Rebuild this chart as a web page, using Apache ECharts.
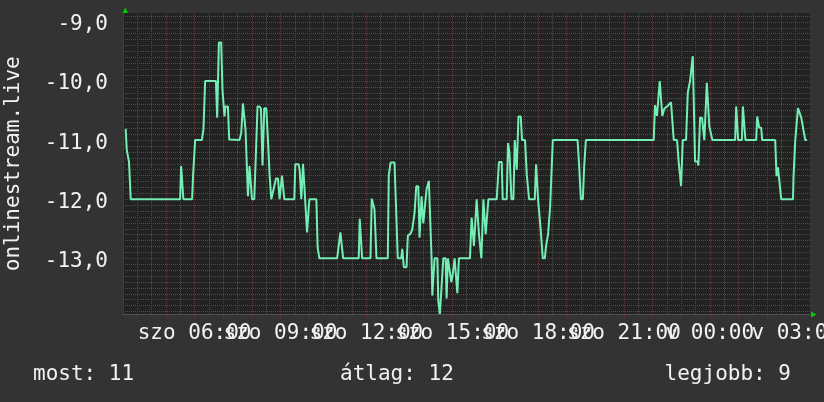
<!DOCTYPE html>
<html><head><meta charset="utf-8">
<script src="https://cdn.jsdelivr.net/npm/echarts@6/dist/echarts.min.js"></script>
<style>html,body{margin:0;padding:0;background:#333333;}#c{width:824px;height:402px;}</style>
</head><body><div id="c"></div>
<script>
// time in hours since Saturday 00:00
const hours = [3.594,3.63,3.71,3.77,5.495,5.53,5.59,5.61,5.915,5.95,
6.02,6.255,6.31,6.37,6.745,6.79,6.85,6.93,6.975,7.045,
7.08,7.165,7.21,7.57,7.63,7.69,7.735,7.78,7.865,7.92,
8.005,8.085,8.13,8.2,8.27,8.32,8.375,8.435,8.505,8.565,
8.62,8.68,8.76,8.845,8.915,8.97,9.055,9.135,9.485,9.52,
9.635,9.67,9.73,9.79,9.845,9.93,9.975,10.01,10.255,10.3,
10.36,10.98,11.035,11.095,11.155,11.19,11.735,11.77,11.83,11.855,
12.145,12.19,12.24,12.285,12.355,12.75,12.785,12.845,12.985,13.045,
13.1,13.22,13.255,13.31,13.405,13.45,13.545,13.605,13.685,13.745,
13.815,13.86,13.93,13.99,14.045,14.105,14.185,14.235,14.28,14.305,
14.34,14.385,14.48,14.515,14.57,14.63,14.69,14.77,14.805,14.85,
14.91,14.97,15.025,15.085,15.13,15.18,15.21,15.235,15.62,15.68,
15.725,15.76,15.82,15.855,15.9,15.935,16.02,16.055,16.09,16.145,
16.17,16.23,16.265,16.555,16.635,16.73,16.765,16.905,16.95,17.0,
17.07,17.14,17.185,17.255,17.315,17.395,17.44,17.545,17.605,17.685,
17.885,17.93,18.0,18.035,18.095,18.165,18.235,18.28,18.35,18.42,
18.48,18.515,19.38,19.435,19.495,19.565,19.61,19.67,22.04,22.085,
22.12,22.155,22.215,22.25,22.305,22.34,22.41,22.53,22.645,22.705,
22.74,22.855,22.915,22.995,23.055,23.17,23.23,23.31,23.405,23.45,
23.485,23.58,23.6,23.66,23.73,23.765,23.81,23.895,23.93,23.985,
24.045,24.09,24.885,24.92,24.955,24.99,25.12,25.155,25.21,25.245,
25.62,25.655,25.725,25.795,25.83,26.285,26.33,26.38,26.415,26.495,
26.905,26.925,26.985,27.08,27.125,27.195,27.275,27.335,27.395];
const values = [-10.81,-11.16,-11.37,-12.0,-12.0,-11.44,-11.44,-12.0,-12.0,-11.58,
-11.0,-11.0,-10.82,-10.0,-10.0,-10.62,-9.35,-9.35,-10.15,-10.6,
-10.43,-10.43,-10.99,-11.0,-10.88,-10.38,-10.38,-10.82,-11.95,-11.44,
-12.0,-12.0,-11.41,-10.43,-10.43,-10.47,-11.43,-10.46,-10.46,-11.0,
-11.58,-12.0,-11.83,-11.65,-11.65,-12.0,-11.6,-12.0,-12.0,-11.41,
-11.41,-11.5,-12.0,-11.4,-11.4,-12.56,-12.56,-12.0,-12.0,-12.82,
-13.0,-13.0,-12.79,-12.56,-12.56,-13.0,-13.0,-12.33,-12.33,-13.0,
-13.0,-11.99,-11.99,-12.17,-13.0,-13.0,-11.6,-11.38,-11.38,-12.23,
-13.0,-13.0,-12.84,-13.15,-13.15,-12.62,-12.58,-12.51,-12.23,-11.78,
-11.78,-12.65,-11.95,-12.41,-12.41,-11.83,-11.69,-11.69,-13.0,-13.63,
-13.63,-13.0,-13.0,-13.72,-13.94,-13.94,-13.0,-13.0,-13.68,-13.0,
-13.0,-13.4,-13.25,-13.0,-13.0,-13.59,-13.59,-13.0,-13.0,-12.31,
-12.31,-12.79,-12.79,-12.0,-12.0,-12.59,-13.0,-13.0,-12.0,-12.0,
-12.59,-12.59,-12.0,-12.0,-11.37,-11.37,-12.0,-12.0,-11.05,-11.2,
-12.0,-12.0,-11.0,-11.5,-10.6,-10.6,-11.0,-11.0,-11.58,-12.0,
-12.0,-11.41,-12.0,-12.0,-12.54,-13.0,-13.0,-12.79,-12.59,-12.14,
-12.14,-11.0,-11.0,-11.43,-12.0,-12.0,-11.45,-11.0,-11.0,-10.41,
-10.41,-10.59,-10.59,-10.0,-10.0,-10.59,-10.47,-10.42,-10.36,-10.36,
-11.0,-11.0,-11.38,-11.78,-11.0,-11.0,-10.2,-10.0,-9.58,-9.58,
-11.36,-11.36,-11.43,-10.62,-10.62,-10.8,-11.0,-10.03,-10.03,-10.77,
-10.77,-11.0,-11.0,-10.43,-10.43,-11.0,-11.0,-10.43,-10.43,-11.0,
-11.0,-10.6,-10.79,-10.79,-11.0,-11.0,-11.61,-11.46,-11.46,-12.0,
-12.0,-11.61,-11.0,-10.46,-10.46,-10.62,-10.84,-11.0,-11.0];

const xTickHours = [6, 9, 12, 15, 18, 21, 24, 27];
const xTickLabels = ['szo 06:00','szo 09:00','szo 12:00','szo 15:00','szo 18:00','szo 21:00','v 00:00','v 03:00'];
const yTickValues = [-13, -12, -11, -10, -9];
const yTickLabels = ['-13,0','-12,0','-11,0','-10,0','-9,0'];
const yAxisTitle = 'onlinestream.live';
const legendTexts = ['most: 11', 'átlag: 12', 'legjobb: 9'];

const X_MIN = 3.5, X_MAX = 27.5, X_STEP = 0.5;
const Y_MIN = -13.95, Y_MAX = -8.85, Y_STEP = 0.05;

const xCats = [];
for (let i = 0; i <= Math.round((X_MAX - X_MIN) / X_STEP); i++) xCats.push(+(X_MIN + i * X_STEP).toFixed(2));
const yCats = [];
for (let i = 0; i <= Math.round((Y_MAX - Y_MIN) / Y_STEP); i++) yCats.push(+(Y_MIN + i * Y_STEP).toFixed(2));
const isInt = v => Math.abs(v - Math.round(v)) < 1e-6;
const isTenth = v => Math.abs(v * 10 - Math.round(v * 10)) < 1e-6;

const FONT = "'DejaVu Sans Mono', monospace";
const TXT = '#f2f2f2';
const MAJOR = '#6e3434';
const MINOR = '#4e4e4e';
const dotted = [1, 1];

const xMajor = (i) => i > 0 && i < xCats.length - 1 && isInt(xCats[i]);
const xMinor = (i) => i > 0 && i < xCats.length - 1 && !isInt(xCats[i]);
const yMajor = (i) => i > 0 && i < yCats.length - 1 && isInt(yCats[i]);
const yMinor = (i) => i > 0 && i < yCats.length - 1 && isTenth(yCats[i]) && !isInt(yCats[i]);
const xLabelIdx = (i) => xTickHours.findIndex(h => Math.abs(h - xCats[i]) < 1e-6);
const yLabelIdx = (i) => yTickValues.findIndex(t => Math.abs(t - yCats[i]) < 1e-6);

const chart = echarts.init(document.getElementById('c'), null, {renderer: 'canvas'});
chart.setOption({
  backgroundColor: '#333333',
  animation: false,
  textStyle: {fontFamily: FONT},
  grid: {left: 123, right: 14, top: 13, bottom: 87.5, show: true, backgroundColor: '#222222', borderWidth: 0,
         containLabel: false, outerBoundsMode: 'none'},
  title: [
    {text: legendTexts[0], left: 33, top: 364, padding: 0, textStyle: {color: TXT, fontFamily: FONT, fontSize: 21, fontWeight: 'normal'}},
    {text: legendTexts[1], left: 340, top: 364, padding: 0, textStyle: {color: TXT, fontFamily: FONT, fontSize: 21, fontWeight: 'normal'}},
    {text: legendTexts[2], right: 33, top: 364, padding: 0, textStyle: {color: TXT, fontFamily: FONT, fontSize: 21, fontWeight: 'normal'}}
  ],
  xAxis: [
    {type: 'category', data: xCats, boundaryGap: false, position: 'bottom',
     axisLine: {show: true, lineStyle: {color: '#505050', width: 1}},
     axisTick: {show: true, length: 3, interval: (i) => isInt(xCats[i]), lineStyle: {color: MAJOR}},
     axisLabel: {show: true, showMinLabel: true, showMaxLabel: true, hideOverlap: false,
       interval: (i) => i === 0 || i === xCats.length - 1 || xLabelIdx(i) >= 0,
       formatter: (v, i) => { const k = xLabelIdx(i); return k >= 0 ? xTickLabels[k] : ''; },
       color: TXT, fontFamily: FONT, fontSize: 21, margin: 9},
     splitLine: {show: true, interval: xMajor, lineStyle: {color: MAJOR, width: 1, type: dotted}}},
    {type: 'category', data: xCats, boundaryGap: false,
     axisLine: {show: false}, axisTick: {show: false}, axisLabel: {show: false},
     splitLine: {show: true, interval: xMinor, lineStyle: {color: MINOR, width: 1, type: dotted}}},
    {type: 'value', min: X_MIN, max: X_MAX,
     axisLine: {show: false}, axisTick: {show: false}, axisLabel: {show: false}, splitLine: {show: false}}
  ],
  yAxis: [
    {type: 'category', data: yCats, boundaryGap: false, position: 'left',
     name: yAxisTitle, nameLocation: 'middle', nameGap: 99, nameTextStyle: {color: TXT, fontFamily: FONT, fontSize: 21},
     axisLine: {show: true, lineStyle: {color: '#3c3c3c', width: 1}},
     axisTick: {show: false},
     axisLabel: {show: true, showMinLabel: true, showMaxLabel: true, hideOverlap: false,
       interval: (i) => i === 0 || i === yCats.length - 1 || yLabelIdx(i) >= 0,
       formatter: (v, i) => { const k = yLabelIdx(i); return k >= 0 ? yTickLabels[k] : ''; },
       color: TXT, fontFamily: FONT, fontSize: 21, margin: 15, verticalAlign: 'top', lineHeight: 6},
     splitLine: {show: true, interval: yMajor, lineStyle: {color: MAJOR, width: 1, type: dotted}}},
    {type: 'category', data: yCats, boundaryGap: false,
     axisLine: {show: false}, axisTick: {show: false}, axisLabel: {show: false},
     splitLine: {show: true, interval: yMinor, lineStyle: {color: MINOR, width: 1, type: dotted}}},
    {type: 'value', min: Y_MIN, max: Y_MAX,
     axisLine: {show: false}, axisTick: {show: false}, axisLabel: {show: false}, splitLine: {show: false}}
  ],
  graphic: [
    {type: 'polygon', shape: {points: [[122.5, 13], [128, 13], [125.25, 7.5]]}, style: {fill: '#00cc00'}},
    {type: 'polygon', shape: {points: [[811, 311.5], [811, 317.5], [816.5, 314.5]]}, style: {fill: '#00cc00'}}
  ],
  series: [{
    type: 'line', xAxisIndex: 2, yAxisIndex: 2,
    data: hours.map((h, i) => [h, values[i]]),
    showSymbol: false, symbol: 'none', clip: true,
    lineStyle: {color: '#74eeb4', width: 2},
    z: 5
  }]
});
</script>
</body></html>
